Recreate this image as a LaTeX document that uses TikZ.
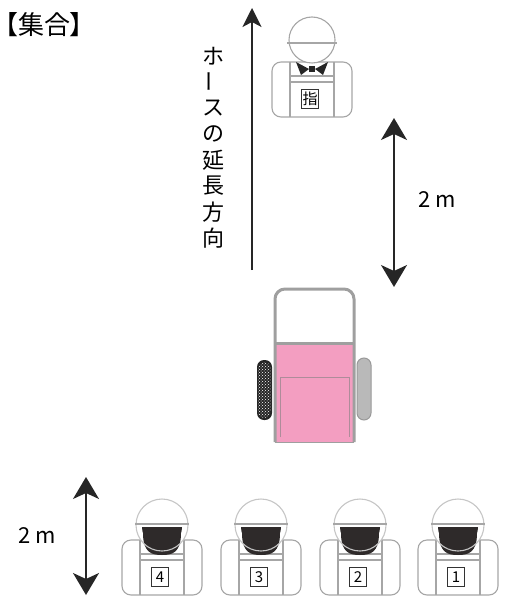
\documentclass[tikz,border=0pt]{standalone}
\usepackage{fontspec}
\usepackage{tikz}
\usetikzlibrary{arrows.meta,patterns}
\newfontfamily\cjk{Noto Sans CJK JP}
\newfontfamily\cjkprop{Noto Sans CJK JP}[RawFeature=+palt]

\definecolor{cartpink}{RGB}{243,158,193}
\definecolor{hair}{RGB}{46,42,42}

\tikzset{
  outline/.style={draw=gray!70, line width=1.1pt},
  tagbox/.style={draw=black!80, line width=0.8pt, fill=white, inner sep=0pt,
    minimum width=17pt, minimum height=19pt, font=\cjk\fontsize{15}{15}\selectfont},
  dimarrow/.style={line width=1.7pt, draw=black!85,
    arrows={Stealth[length=22pt,width=26pt,inset=6pt]-Stealth[length=22pt,width=26pt,inset=6pt]}},
  hosearrow/.style={line width=1.5pt, draw=black!85,
    arrows={-Stealth[length=19pt,width=19pt,inset=5pt]}},
  dimlabel/.style={font=\cjk\fontsize{22}{22}\selectfont},
  vchar/.style={font=\cjk\fontsize{22}{22}\selectfont, inner sep=0pt},
  % vest with number tag
  pics/body/.style={code={
    \draw[outline, fill=white, rounded corners=9] (-40,0) rectangle (40,55);
    \draw[outline] (-22,0) -- (-22,55) (22,0) -- (22,55);
    \draw[outline] (-22,14) -- (22,14) (-22,20) -- (22,20);
    \node[tagbox] (-tag) at (-2,37) {#1};
  }},
  % crew member seen from behind
  pics/worker/.style={code={
    \pic at (0,15) {body=#1};
    \fill[white] (0,0) circle[radius=26];
    \fill[hair] (-20,2) arc[start angle=180, end angle=0, radius=20] -- cycle;
    \fill[hair] (-19,8) .. controls (-19,28) and (-10,30) .. (0,30)
      .. controls (10,30) and (19,28) .. (19,8) -- cycle;
    \draw[draw=gray!45, line width=1.1pt] (0,0) circle[radius=26];
    \draw[outline] (-27,-1) -- (27,-1);
  }},
  % leader facing the crew
  pics/chief/.style={code={
    \pic at (0,22) {body=#1};
    \draw[outline, fill=white] (0,0) circle[radius=23];
    \draw[outline] (-25,3) -- (25,3);
    \fill[black!85] (-16,22) -- (-3,29) -- (-11,35) -- cycle;
    \fill[black!85] (16,22) -- (3,29) -- (11,35) -- cycle;
    \fill[black!85] (-3,26) rectangle (3,32);
  }},
}

\begin{document}
\begin{tikzpicture}[x=1pt, y=-1pt]
  \useasboundingbox (0,0) rectangle (506,596);

  \node[anchor=base west, inner sep=0pt, font=\cjkprop\fontsize{26}{30}\selectfont] (title) at (5,35) {【集合】};

  % hose direction
  \coordinate (hosetail) at (252,270);
  \coordinate (hosehead) at (252,8);
  \draw[hosearrow] (hosetail) -- (hosehead);
  \foreach \ch [count=\i from 0] in {ホ,ー,ス,の,延,長,方,向} {
    \pgfmathsetmacro{\tilt}{\i==1 ? 90 : 0}
    \node[vchar, rotate=\tilt] (dir\i) at (213,56+26*\i) {\ch};
  }

  \pic (chief) at (312,40) {chief=指};

  % hose cart
  \fill[cartpink] (275,343) rectangle (354,442);
  \draw[gray!75, line width=0.9pt] (275,442) -- (354,442);
  \draw[gray!60!cartpink, line width=1pt] (280,437) |- (349,377) -- (349,437);
  \draw[gray!75, line width=3pt, rounded corners=10] (275,442) |- (354,289) -- (354,442);
  \draw[gray!75, line width=3pt] (275,343) -- (354,343);
  \fill[black!85, rounded corners=7] (257,360) rectangle (272,420);
  \path[pattern=crosshatch dots, pattern color=white, rounded corners=7] (258,362) rectangle (271,418);
  \draw[gray!80, fill=gray!55, line width=1pt, rounded corners=7] (357,358) rectangle (371,420);
  \coordinate (cart) at (314,289);

  % distance leader to cart
  \coordinate (gapA) at (394,118);
  \coordinate (gapB) at (394,287);
  \draw[dimarrow] (gapA) -- (gapB);
  \node[dimlabel] (gaplabel) at (437,200) {2 m};

  % crew row
  \foreach \n/\x in {4/162,3/261,2/360,1/458}
    \pic (w\n) at (\x,525) {worker=\n};

  \coordinate (rowA) at (86,477);
  \coordinate (rowB) at (86,595);
  \draw[dimarrow] (rowA) -- (rowB);
  \node[dimlabel] (rowlabel) at (37,536) {2 m};
\end{tikzpicture}
\end{document}
